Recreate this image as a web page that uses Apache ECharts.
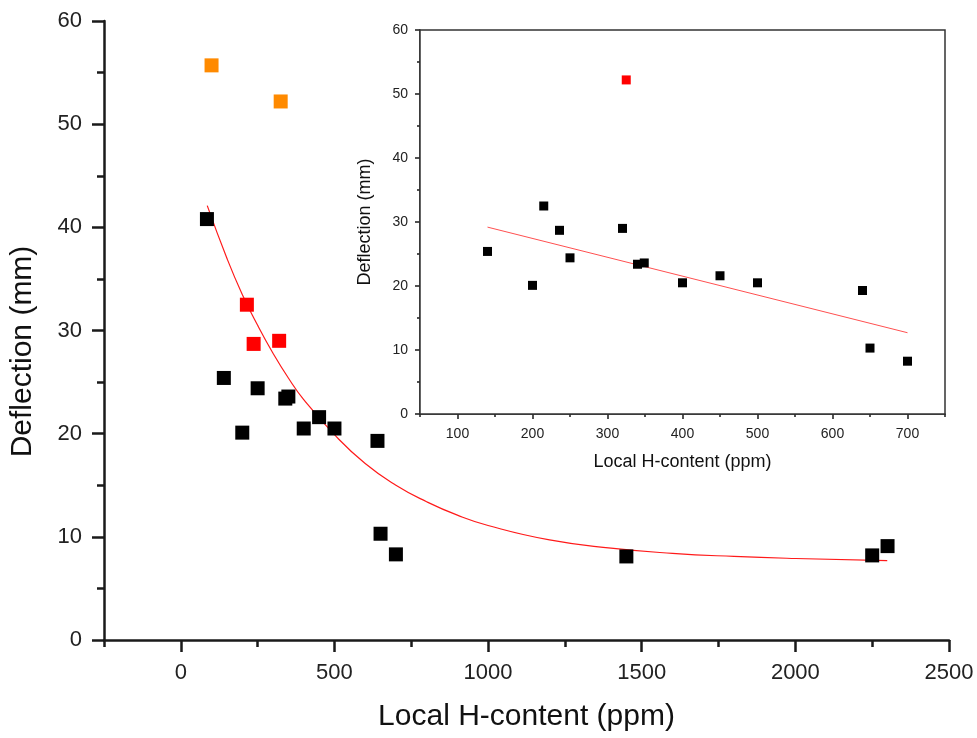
<!DOCTYPE html>
<html>
<head>
<meta charset="utf-8">
<script src="https://cdn.jsdelivr.net/npm/echarts@6/dist/echarts.min.js"></script>
<style>
  html, body { margin: 0; padding: 0; background: #fff; }
  #chart { width: 977px; height: 738px; }
</style>
</head>
<body>
<div id="chart"></div>
<script>
// main plot data
const mainBlackX = [85, 140, 200, 250, 340, 350, 400, 450, 500, 640, 650, 700, 1450, 2250, 2300]
const mainBlackY = [40.8, 25.4, 20.1, 24.4, 23.4, 23.6, 20.5, 21.6, 20.5, 19.3, 10.3, 8.3, 8.1, 8.2, 9.1]
const mainRedX = [215, 237, 320]
const mainRedY = [32.5, 28.7, 29.0]
const mainOrangeX = [100, 325]
const mainOrangeY = [55.7, 52.2]
// decay fit curve
const fitX = [86, 150, 200, 250, 300, 350, 400, 500, 600, 700, 800, 900, 1000, 1200, 1400, 1600, 1800, 2000, 2299]
const fitY = [42.1, 37.0, 33.5, 30.5, 27.8, 25.4, 23.3, 19.9, 17.1, 15.0, 13.4, 12.1, 11.1, 9.7, 8.9, 8.4, 8.1, 7.9, 7.7]

// inset data
const insetBlackX = [140, 200, 215, 236, 250, 320, 340, 349, 400, 450, 500, 640, 650, 700]
const insetBlackY = [25.4, 20.1, 32.5, 28.7, 24.4, 29.0, 23.4, 23.6, 20.5, 21.6, 20.5, 19.3, 10.3, 8.25]
const insetRedX = [325]
const insetRedY = [52.2]
const insetFitX = [140, 700]
const insetFitY = [29.2, 12.7]

// tick positions
const mainXMajor = [0, 500, 1000, 1500, 2000, 2500]
const mainXMinor = [-250, 250, 750, 1250, 1750, 2250]
const insetXMajor = [100, 200, 300, 400, 500, 600, 700]
const insetXMinor = [50, 150, 250, 350, 450, 550, 650, 750]

const zip = (xs, ys) => xs.map((x, i) => [x, ys[i]])

const font = '"Liberation Sans", Arial, sans-serif'
const axisDark = '#1a1a1a'
const plain = v => String(v)

function xAxisPair(grid, min, max, major, minor, big) {
  const lw = big ? 2.5 : 1.5
  const base = {
    type: 'value', gridIndex: grid, min, max, position: 'bottom',
    splitLine: { show: false },
  }
  return [
    {
      ...base,
      axisLine: { show: true, onZero: false, lineStyle: { color: axisDark, width: lw } },
      axisTick: { show: true, customValues: major, length: big ? 12 : 5, lineStyle: { color: axisDark, width: lw } },
      axisLabel: {
        show: true, customValues: major, margin: big ? 22 : 13, formatter: plain,
        color: '#222', fontSize: big ? 22 : 14, fontFamily: font,
      },
      name: 'Local H-content (ppm)',
      nameLocation: 'middle',
      nameGap: big ? 62 : 39,
      nameTextStyle: { color: '#111', fontSize: big ? 30 : 18, fontFamily: font },
    },
    {
      ...base,
      axisLine: { show: false },
      axisTick: { show: true, customValues: minor, length: big ? 7 : 3, lineStyle: { color: axisDark, width: lw } },
      axisLabel: { show: false },
    },
  ]
}

const chart = echarts.init(document.getElementById('chart'))

chart.setOption({
  animation: false,
  backgroundColor: '#fff',
  grid: [
    { left: 104, right: 28, top: 21, bottom: 98 },
    {
      left: 420, right: 32, top: 30, bottom: 324,
      show: true, backgroundColor: '#fff', borderColor: '#333', borderWidth: 1.5, z: 5,
    },
  ],
  xAxis: [
    ...xAxisPair(0, -250, 2500, mainXMajor, mainXMinor, true),
    ...xAxisPair(1, 50, 750, insetXMajor, insetXMinor, false),
  ],
  yAxis: [
    {
      type: 'value', gridIndex: 0, min: 0, max: 60, interval: 10,
      splitLine: { show: false },
      axisLine: { show: true, onZero: false, lineStyle: { color: axisDark, width: 2.5 } },
      axisTick: { show: true, length: 12, lineStyle: { color: axisDark, width: 2.5 } },
      minorTick: { show: true, splitNumber: 2, length: 7, lineStyle: { color: axisDark, width: 2.5 } },
      axisLabel: { margin: 22, color: '#222', fontSize: 22, fontFamily: font },
      name: 'Deflection (mm)',
      nameLocation: 'middle',
      nameGap: 66,
      nameTextStyle: { color: '#111', fontSize: 30, fontFamily: font, padding: [0, 42, 0, 0] },
    },
    {
      type: 'value', gridIndex: 1, min: 0, max: 60, interval: 10,
      splitLine: { show: false },
      axisLine: { show: true, onZero: false, lineStyle: { color: axisDark, width: 1.5 } },
      axisTick: { show: true, length: 5, lineStyle: { color: axisDark, width: 1.5 } },
      minorTick: { show: true, splitNumber: 2, length: 3, lineStyle: { color: axisDark, width: 1.5 } },
      axisLabel: { margin: 12, color: '#222', fontSize: 14, fontFamily: font },
      name: 'Deflection (mm)',
      nameLocation: 'middle',
      nameGap: 46,
      nameTextStyle: { color: '#111', fontSize: 18, fontFamily: font },
    },
  ],
  series: [
    {
      type: 'line', xAxisIndex: 0, yAxisIndex: 0, data: zip(fitX, fitY),
      smooth: true, showSymbol: false, lineStyle: { color: '#ff1a1a', width: 1.2 }, z: 2,
    },
    {
      type: 'scatter', xAxisIndex: 0, yAxisIndex: 0, data: zip(mainBlackX, mainBlackY),
      symbol: 'rect', symbolSize: 14, itemStyle: { color: '#000', opacity: 1 }, z: 3,
    },
    {
      type: 'scatter', xAxisIndex: 0, yAxisIndex: 0, data: zip(mainRedX, mainRedY),
      symbol: 'rect', symbolSize: 14, itemStyle: { color: '#ff0000', opacity: 1 }, z: 3,
    },
    {
      type: 'scatter', xAxisIndex: 0, yAxisIndex: 0, data: zip(mainOrangeX, mainOrangeY),
      symbol: 'rect', symbolSize: 14, itemStyle: { color: '#ff8a00', opacity: 1 }, z: 3,
    },
    {
      type: 'line', xAxisIndex: 2, yAxisIndex: 1, data: zip(insetFitX, insetFitY),
      showSymbol: false, lineStyle: { color: '#ff5050', width: 1 }, z: 6,
    },
    {
      type: 'scatter', xAxisIndex: 2, yAxisIndex: 1, data: zip(insetBlackX, insetBlackY),
      symbol: 'rect', symbolSize: 9, itemStyle: { color: '#000', opacity: 1 }, z: 7,
    },
    {
      type: 'scatter', xAxisIndex: 2, yAxisIndex: 1, data: zip(insetRedX, insetRedY),
      symbol: 'rect', symbolSize: 9, itemStyle: { color: '#ff0000', opacity: 1 }, z: 7,
    },
  ],
})
</script>
</body>
</html>
